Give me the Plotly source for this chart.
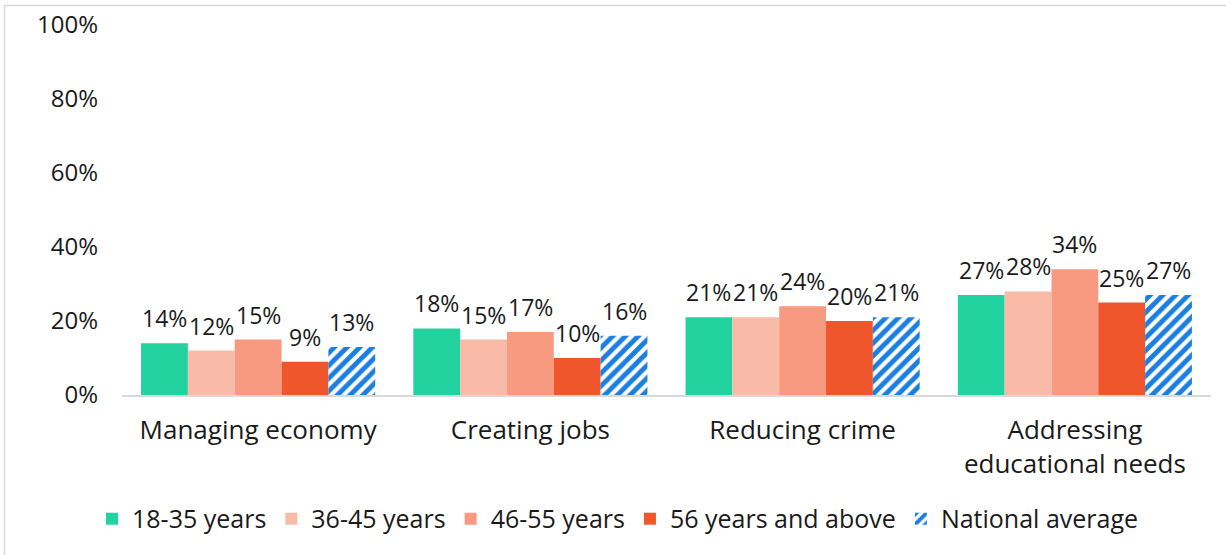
import plotly.graph_objects as go

categories = ["Managing economy", "Creating jobs", "Reducing crime", "Addressing<br>educational needs"]
series_names = ["18-35 years", "36-45 years", "46-55 years", "56 years and above", "National average"]
age_18_35 = [14, 18, 21, 27]
age_36_45 = [12, 15, 21, 28]
age_46_55 = [15, 17, 24, 34]
age_56_up = [9, 10, 20, 25]
national_avg = [13, 16, 21, 27]
y_ticks = [0, 20, 40, 60, 80, 100]

values = [age_18_35, age_36_45, age_46_55, age_56_up, national_avg]
colors = ["#22D3A0", "#F9BBA8", "#F79A80", "#F0562B", "#1A7FE0"]

FONT = "Open Sans"
TEXT = "#1a1a1a"
BARGAP = 0.14
n_series = len(series_names)
bar_w = (1 - BARGAP) / n_series

fig = go.Figure()
annotations = []
for s, (name, vals, col) in enumerate(zip(series_names, values, colors)):
    marker = dict(color=col, line=dict(width=0))
    if name == "National average":
        marker = dict(
            color="white",
            line=dict(width=0),
            pattern=dict(shape="/", fgcolor=col, bgcolor="white",
                         size=9, solidity=0.55, fgopacity=1),
        )
    fig.add_trace(go.Bar(name=name, x=categories, y=vals, marker=marker))
    # value labels above each bar
    offset = (s - (n_series - 1) / 2) * bar_w
    for c, v in enumerate(vals):
        annotations.append(dict(
            x=c + offset, y=v, xref="x", yref="y",
            text=f"{v}%", showarrow=False,
            yanchor="bottom", yshift=7,
            font=dict(size=23, color=TEXT, family=FONT),
        ))

fig.update_layout(
    width=1226,
    height=555,
    barmode="group",
    bargap=BARGAP,
    bargroupgap=0,
    plot_bgcolor="white",
    paper_bgcolor="white",
    margin=dict(l=122, r=15, t=25, b=160, autoexpand=False),
    font=dict(family=FONT, color=TEXT),
    showlegend=True,
    legend=dict(
        orientation="h",
        x=(618 - 122) / 1089, xanchor="center",
        y=-0.335, yanchor="middle",
        font=dict(size=25, family=FONT),
        itemwidth=30,
        traceorder="normal",
    ),
    yaxis=dict(
        range=[0, 100],
        tickvals=y_ticks,
        ticktext=[f"{t}%" for t in y_ticks],
        showgrid=False,
        zeroline=False,
        showline=False,
        tickfont=dict(size=24, family=FONT),
        ticks="",
        ticklen=0,
        ticklabelstandoff=23,
        automargin=False,
    ),
    xaxis=dict(
        showline=True,
        linecolor="#D9D9D9",
        linewidth=2,
        tickfont=dict(size=26, family=FONT),
        tickangle=0,
        ticks="",
        ticklabelstandoff=11,
        automargin=False,
    ),
    annotations=annotations,
    shapes=[
        dict(type="line", xref="paper", yref="paper",
             x0=(4.5 - 122) / 1089, x1=(4.5 - 122) / 1089,
             y0=(395 - 5.5) / 370, y1=(395 - 560) / 370,
             line=dict(color="#D9D9D9", width=1.5)),
        dict(type="line", xref="paper", yref="paper",
             x0=(4.5 - 122) / 1089, x1=(1230 - 122) / 1089,
             y0=(395 - 5.5) / 370, y1=(395 - 5.5) / 370,
             line=dict(color="#D9D9D9", width=1.5)),
    ],
)

fig.write_html("out.html")
